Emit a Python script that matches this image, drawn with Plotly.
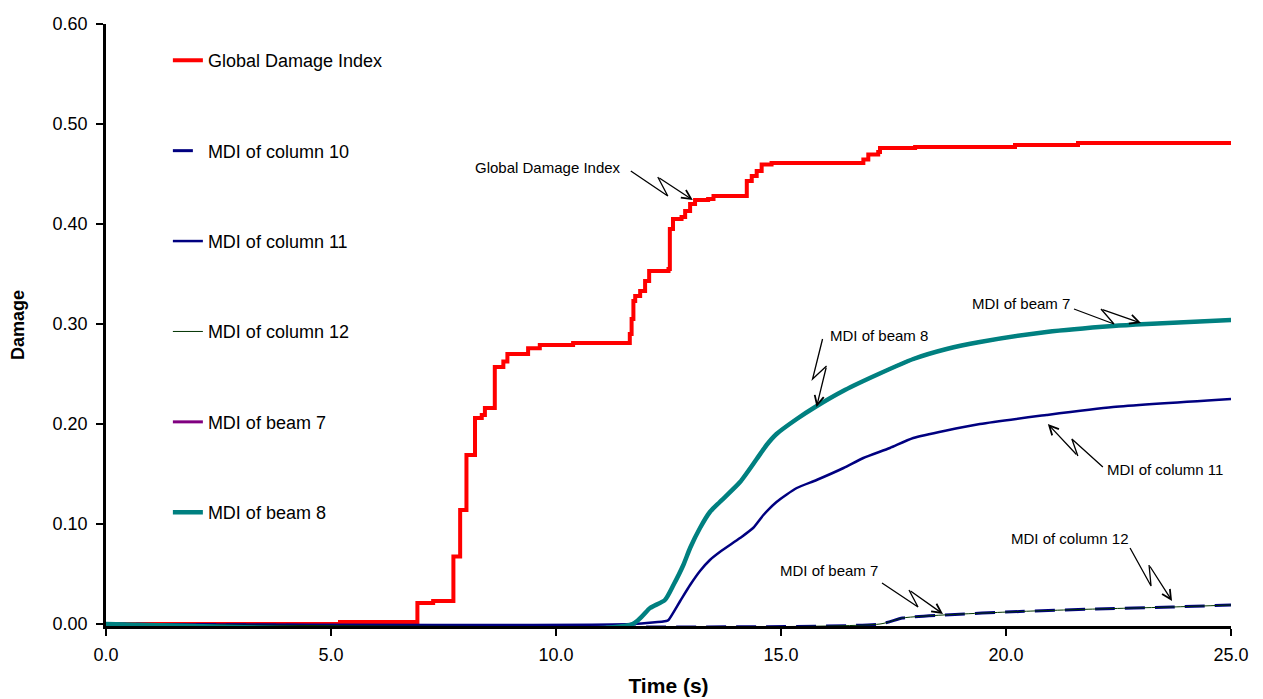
import plotly.graph_objects as go

# ---------------- data ----------------
gdi_time = [0.0, 5.2, 6.92, 7.27, 7.72, 7.87, 8.01, 8.2, 8.35, 8.42, 8.64, 8.83, 8.92,
            9.38, 9.64, 10.38, 11.64, 11.68, 11.72, 11.76, 11.87, 11.98, 12.07, 12.5,
            12.53, 12.6, 12.79, 12.87, 12.98, 13.09, 13.38, 13.5, 14.24, 14.35, 14.46,
            14.57, 14.79, 16.83, 16.94, 17.16, 17.2, 17.98, 20.2, 21.6, 25.0]
gdi_value = [0.0, 0.002, 0.021, 0.023, 0.0675, 0.114, 0.169, 0.206, 0.209, 0.216, 0.257,
             0.2625, 0.270, 0.2758, 0.279, 0.281, 0.290, 0.305, 0.323, 0.328, 0.333, 0.343,
             0.353, 0.355, 0.395, 0.405, 0.407, 0.413, 0.420, 0.424, 0.425, 0.428, 0.443,
             0.448, 0.453, 0.4596, 0.461, 0.4646, 0.4696, 0.472, 0.476, 0.477, 0.479, 0.481,
             0.481]

beam_time = [0.0, 11.7, 12.09, 12.42, 12.61, 12.83, 12.98, 13.2, 13.42, 13.64, 14.09,
             14.46, 14.68, 14.9, 15.35, 15.76, 16.42, 17.17, 17.94, 18.68, 19.42, 20.9,
             22.38, 23.13, 25.0]
beam8_value = [0.0, 0.0, 0.016, 0.024, 0.039, 0.059, 0.076, 0.096, 0.112, 0.122, 0.142,
               0.165, 0.179, 0.190, 0.205, 0.217, 0.234, 0.250, 0.265, 0.275, 0.282, 0.292,
               0.298, 0.300, 0.304]
beam7_value = [0.0, 0.0, 0.016, 0.024, 0.039, 0.059, 0.076, 0.096, 0.112, 0.122, 0.142,
               0.165, 0.179, 0.190, 0.205, 0.217, 0.234, 0.250, 0.265, 0.275, 0.282, 0.292,
               0.298, 0.300, 0.304]

col11_time = [0.0, 11.7, 12.45, 12.5, 12.76, 12.98, 13.2, 13.42, 13.64, 14.09, 14.38,
              14.61, 14.9, 15.35, 15.79, 16.39, 16.83, 17.42, 17.94, 19.42, 20.9, 22.38,
              25.0]
col11_value = [0.0, 0.0, 0.003, 0.004, 0.023, 0.039, 0.053, 0.064, 0.072, 0.086, 0.096,
               0.109, 0.122, 0.136, 0.144, 0.156, 0.166, 0.176, 0.186, 0.200, 0.209, 0.217,
               0.225]

col_low_time = [0.0, 17.2, 17.7, 18.6, 20.3, 22.0, 23.7, 25.0]
col10_value = [0.0, 0.0, 0.006, 0.009, 0.0125, 0.015, 0.017, 0.019]
col12_value = [0.0, 0.0, 0.006, 0.009, 0.0125, 0.015, 0.017, 0.019]

x_ticks = [0, 5, 10, 15, 20, 25]
x_tick_labels = ["0.0", "5.0", "10.0", "15.0", "20.0", "25.0"]
y_ticks = [0.0, 0.1, 0.2, 0.3, 0.4, 0.5, 0.6]
y_tick_labels = ["0.00", "0.10", "0.20", "0.30", "0.40", "0.50", "0.60"]

# callouts: label, tip (time, damage)
callout_labels = ["Global Damage Index", "MDI of beam 8", "MDI of beam 7",
                  "MDI of column 11", "MDI of beam 7", "MDI of column 12"]
callout_tip_time = [13.04, 15.79, 23.0, 20.93, 18.6, 23.69]
callout_tip_value = [0.424, 0.217, 0.301, 0.200, 0.010, 0.023]

# ---------------- styling ----------------
FONT = "Liberation Sans, Arial, sans-serif"

# zig-zag offsets in screen pixels relative to the tip (dx, dy with dy down)
zig = [
    dict(start=(-62, -29), p1=(-25, -4), p2=(-35, -23), txt=(-70, -33), anchor="right"),
    dict(start=(6, -68), p1=(-4, -28), p2=(10, -41), txt=(11, -72), anchor="left"),
    dict(start=(-67, -14), p1=(-27, 1), p2=(-40, -14), txt=(-69, -20), anchor="right"),
    dict(start=(55, 43), p1=(24, 15), p2=(30, 32), txt=(57, 45), anchor="left"),
    dict(start=(-61, -31), p1=(-25, -7), p2=(-34, -24), txt=(-63, -44), anchor="right"),
    dict(start=(-42, -53), p1=(-21, -15), p2=(-23, -36), txt=(-41, -63), anchor="right"),
]

fig = go.Figure()

traces = [
    ("Global Damage Index", gdi_time, gdi_value, dict(color="#FF0000", width=4, shape="hv")),
    ("MDI of column 10", col_low_time, col10_value,
     dict(color="#000080", width=3, dash="20px,10px", shape="spline", smoothing=0.6)),
    ("MDI of column 11", col11_time, col11_value,
     dict(color="#000080", width=2.5, shape="spline", smoothing=0.6)),
    ("MDI of column 12", col_low_time, col12_value,
     dict(color="#003300", width=1, shape="spline", smoothing=0.6)),
    ("MDI of beam 7", beam_time, beam7_value,
     dict(color="#800080", width=3, shape="spline", smoothing=0.6)),
    ("MDI of beam 8", beam_time, beam8_value,
     dict(color="#008080", width=4.5, shape="spline", smoothing=0.6)),
]
for i, (name, xs, ys, ln) in enumerate(traces):
    fig.add_trace(go.Scatter(x=xs, y=ys, mode="lines", name=name, line=ln,
                             legendgroup=f"g{i}", hoverinfo="skip"))

shapes = []
annotations = []
for lab, tt, tv, z in zip(callout_labels, callout_tip_time, callout_tip_value, zig):
    (sx, sy), (ax1, ay1), (ax2, ay2) = z["start"], z["p1"], z["p2"]
    path = f"M{sx},{-sy} L{ax1},{-ay1} L{ax2},{-ay2}"
    shapes.append(dict(type="path", xref="x", yref="y", xsizemode="pixel", ysizemode="pixel",
                       xanchor=tt, yanchor=tv, path=path,
                       line=dict(color="black", width=1.3)))
    annotations.append(dict(x=tt, y=tv, xref="x", yref="y", text="", showarrow=True,
                            ax=ax2, ay=ay2, axref="pixel", ayref="pixel",
                            arrowhead=5, arrowsize=1.4, arrowwidth=1.3, arrowcolor="black"))
    annotations.append(dict(x=tt, y=tv, xref="x", yref="y", text=lab, showarrow=False,
                            xshift=z["txt"][0], yshift=-z["txt"][1], xanchor=z["anchor"],
                            yanchor="middle", font=dict(family=FONT, size=15, color="black")))

fig.update_layout(
    width=1263, height=699,
    margin=dict(l=98, r=40, t=16, b=81, autoexpand=False),
    paper_bgcolor="white", plot_bgcolor="white",
    font=dict(family=FONT, size=18, color="black"),
    shapes=shapes, annotations=annotations,
    showlegend=True,
    legend=dict(x=0.055, y=0.970, xanchor="left", yanchor="top",
                bgcolor="rgba(0,0,0,0)", font=dict(family=FONT, size=18, color="black"),
                traceorder="grouped", tracegroupgap=64, itemclick=False),
    xaxis=dict(range=[0, 25], tickmode="array", tickvals=x_ticks, ticktext=x_tick_labels,
               showline=True, linecolor="black", linewidth=2.5, ticks="outside",
               ticklen=7, tickwidth=2, tickcolor="black", showgrid=False, zeroline=False,
               ticklabelstandoff=4, automargin=False,
               title=dict(text="<b>Time (s)</b>", font=dict(family=FONT, size=21), standoff=14)),
    yaxis=dict(range=[-0.002, 0.6], tickmode="array", tickvals=y_ticks, ticktext=y_tick_labels,
               showline=True, linecolor="black", linewidth=2.5, ticks="outside",
               ticklen=7, tickwidth=2, tickcolor="black", showgrid=False, zeroline=False,
               ticklabelstandoff=5, automargin=False,
               title=dict(text="<b>Damage</b>", font=dict(family=FONT, size=18), standoff=26)),
)

fig.write_html("out.html")
